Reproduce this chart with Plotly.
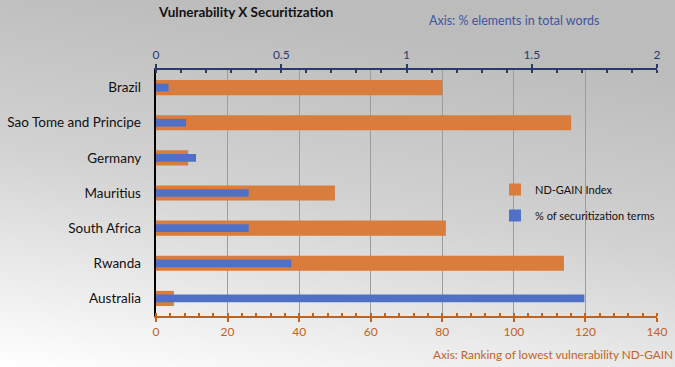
import base64
import plotly.graph_objects as go

countries = ["Brazil", "Sao Tome and Principe", "Germany", "Mauritius",
             "South Africa", "Rwanda", "Australia"]
nd_gain = [80, 116, 9, 50, 81, 114, 5]
securitization = [0.05, 0.12, 0.16, 0.37, 0.37, 0.54, 1.71]

ORANGE = "#D97C3C"
BLUE = "#5070C8"
NAVY = "#2B3A6B"
BROWN = "#C0631F"
FONT = "Lato, 'Open Sans', sans-serif"

W, H = 675, 367
L, R, T, B = 156, 18, 70, 51
pw, ph = W - L - R, H - T - B

svg = f'''<svg xmlns="http://www.w3.org/2000/svg" width="{W}" height="{H}" preserveAspectRatio="none">
<defs><linearGradient id="g" x1="0.3" y1="0" x2="0" y2="1">
<stop offset="0" stop-color="#bcbcbc"/><stop offset="0.45" stop-color="#d2d2d2"/>
<stop offset="1" stop-color="#ffffff"/></linearGradient></defs>
<rect width="{W}" height="{H}" fill="url(#g)"/></svg>'''
src = "data:image/svg+xml;base64," + base64.b64encode(svg.encode()).decode()

fig = go.Figure()
fig.add_trace(go.Bar(
    y=countries, x=nd_gain, orientation="h", name="ND-GAIN Index",
    marker=dict(color=ORANGE, line=dict(width=0)), width=0.43,
    legendgroup="a", xaxis="x", yaxis="y"))
fig.add_trace(go.Bar(
    y=countries, x=securitization, orientation="h", name="% of securitization terms",
    marker=dict(color=BLUE, line=dict(width=0)), width=0.22,
    legendgroup="b", xaxis="x2", yaxis="y"))

fig.update_layout(
    width=W, height=H,
    margin=dict(l=L, r=R, t=T, b=B, pad=0, autoexpand=False),
    barmode="overlay",
    paper_bgcolor="#ffffff",
    plot_bgcolor="rgba(0,0,0,0)",
    font=dict(family=FONT, size=13, color="#111111"),
    images=[dict(source=src, xref="paper", yref="paper",
                 x=-L / pw, y=1 + T / ph, sizex=W / pw, sizey=H / ph,
                 xanchor="left", yanchor="top", sizing="stretch", layer="below")],
    xaxis=dict(
        range=[0, 140], tick0=0, dtick=20, side="bottom",
        showgrid=True, gridcolor="#9c9c9c", gridwidth=1,
        showline=True, linecolor=BROWN, linewidth=2,
        ticks="outside", ticklen=4, tickcolor=BROWN, tickwidth=1.5,
        minor=dict(dtick=4, ticks="inside", ticklen=3, tickcolor=BROWN, showgrid=False),
        tickfont=dict(color=BROWN, size=12, family=FONT),
        zeroline=False, automargin=False),
    xaxis2=dict(
        range=[0, 2], tick0=0, dtick=0.5, overlaying="x", side="top",
        showgrid=False, showline=True, linecolor=NAVY, linewidth=2,
        ticks="outside", ticklen=4, tickcolor=NAVY, tickwidth=1.5,
        minor=dict(dtick=0.1, ticks="inside", ticklen=3, tickcolor=NAVY, showgrid=False),
        tickfont=dict(color=NAVY, size=12, family=FONT),
        zeroline=False, anchor="y", automargin=False),
    yaxis=dict(
        categoryorder="array", categoryarray=countries, autorange="reversed",
        showline=True, linecolor="#000000", linewidth=2,
        ticks="", ticksuffix="   ", showgrid=False, automargin=False,
        tickfont=dict(size=13.5, color="#111111", family=FONT)),
    legend=dict(
        x=(495 - L) / pw, y=1 - (175 - T) / ph, xanchor="left", yanchor="top",
        bgcolor="rgba(0,0,0,0)", font=dict(size=11, color="#111111", family=FONT),
        itemwidth=30, traceorder="grouped", tracegroupgap=7),
    showlegend=True,
)

fig.add_annotation(text="<b>Vulnerability X Securitization</b>", xref="paper", yref="paper",
                   x=(156 - L) / pw, y=1 + (T - 12) / ph, xanchor="left", yanchor="middle",
                   showarrow=False, font=dict(size=13.5, color="#111111", family=FONT))
fig.add_annotation(text="Axis: % elements in total words", xref="paper", yref="paper",
                   x=(427 - L) / pw, y=1 + (T - 21) / ph, xanchor="left", yanchor="middle",
                   showarrow=False, font=dict(size=12.5, color="#3E55A0", family=FONT))
fig.add_annotation(text="Axis: Ranking of lowest vulnerability ND-GAIN", xref="paper", yref="paper",
                   x=(431 - L) / pw, y=-(354 - T - ph) / ph, xanchor="left", yanchor="middle",
                   showarrow=False, font=dict(size=11.8, color=BROWN, family=FONT))

fig.write_html("out.html", config={"displayModeBar": False},
               post_script="document.body.style.margin='0px';")
